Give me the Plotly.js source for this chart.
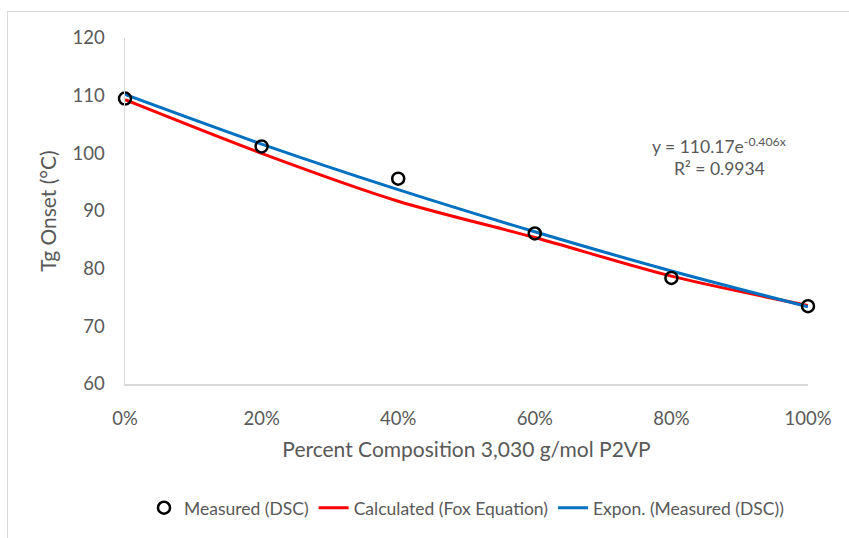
<!DOCTYPE html>
<html>
<head>
<meta charset="utf-8">
<script src="https://cdn.plot.ly/plotly-3.0.1.min.js"></script>
<style>
  html, body { margin: 0; padding: 0; background: #ffffff; }
  #wrap { position: relative; width: 849px; height: 538px; }
  #chart { position: absolute; left: 0; top: 0; width: 849px; height: 538px; }
  #frame { position: absolute; left: 7px; top: 11px; right: 0; bottom: 0;
           border-left: 1px solid #d9d9d9; border-top: 1px solid #d9d9d9; pointer-events: none; }
</style>
</head>
<body>
<div id="wrap">
  <div id="chart"></div>
  <div id="frame"></div>
</div>
<script>
// Composition (fraction of 3,030 g/mol P2VP)
const composition = [0, 0.2, 0.4, 0.6, 0.8, 1.0];
const xTickLabels = ["0%", "20%", "40%", "60%", "80%", "100%"];
// Measured Tg onset (DSC), °C
const measuredDSC = [109.5, 101.2, 95.6, 86.1, 78.4, 73.5];
// Calculated Tg (Fox Equation), °C
const calculatedFox = [109.3, 100.0, 91.7, 85.4, 78.7, 73.6];
// Exponential trendline of measured values, read at each composition, °C
const exponTrend = [110.2, 101.6, 93.7, 86.4, 79.6, 73.4];
const trendEquation = "y = 110.17e<sup>-0.406x</sup>";
const trendR2 = "R² = 0.9934";

const fontFam = "Lato, 'Open Sans', sans-serif";
const gray = "#595959";

const traces = [
  {
    x: composition, y: measuredDSC, type: "scatter", mode: "markers",
    name: "Measured (DSC)",
    marker: { symbol: "circle-open", size: 12, color: "#000000", line: { width: 2.5, color: "#000000" } },
    cliponaxis: false
  },
  {
    x: composition, y: calculatedFox, type: "scatter", mode: "lines",
    name: "Calculated (Fox Equation)",
    line: { color: "#ff0000", width: 3, shape: "spline", smoothing: 0.8 }
  },
  {
    x: composition, y: exponTrend, type: "scatter", mode: "lines",
    name: "Expon. (Measured (DSC))",
    line: { color: "#0070c0", width: 3, shape: "spline", smoothing: 0.8 }
  }
];
// draw markers on top
const ordered = [traces[1], traces[2], traces[0]];
ordered[0].legendrank = 2; ordered[1].legendrank = 3; ordered[2].legendrank = 1;

const layout = {
  width: 849, height: 538,
  paper_bgcolor: "#ffffff", plot_bgcolor: "#ffffff",
  margin: { l: 125, r: 41, t: 38, b: 154, autoexpand: false },
  font: { family: fontFam, color: gray, size: 18 },
  showlegend: true,
  legend: {
    orientation: "h", x: 0.5, xanchor: "center", y: -0.358, yanchor: "middle",
    font: { family: fontFam, size: 17.5, color: gray },
    traceorder: "normal", itemwidth: 30, tracegroupgap: 0
  },
  xaxis: {
    range: [0, 1], tickvals: composition, ticktext: xTickLabels,
    showgrid: false, zeroline: false, showline: true, linecolor: "#d9d9d9", linewidth: 1.5,
    ticks: "", ticklabelstandoff: 17,
    tickfont: { family: fontFam, size: 18.5, color: gray },
    title: { text: "Percent Composition 3,030 g/mol P2VP", font: { family: fontFam, size: 21, color: gray }, standoff: 14 }
  },
  yaxis: {
    range: [60, 120], dtick: 10, tick0: 60,
    showgrid: false, zeroline: false, showline: true, linecolor: "#d9d9d9", linewidth: 1.5,
    ticks: "", ticklabelstandoff: 15,
    tickfont: { family: fontFam, size: 18.5, color: gray },
    title: { text: "Tg Onset (°C)", font: { family: fontFam, size: 21, color: gray }, standoff: 10 }
  },
  annotations: [
    { xref: "x", yref: "y", x: 0.87, y: 101.4, text: trendEquation, showarrow: false,
      xanchor: "center", yanchor: "middle", font: { family: fontFam, size: 17.5, color: gray } },
    { xref: "x", yref: "y", x: 0.87, y: 97.3, text: trendR2, showarrow: false,
      xanchor: "center", yanchor: "middle", font: { family: fontFam, size: 17.5, color: gray } }
  ]
};

Plotly.newPlot("chart", ordered, layout, { displayModeBar: false, staticPlot: true });
</script>
</body>
</html>
